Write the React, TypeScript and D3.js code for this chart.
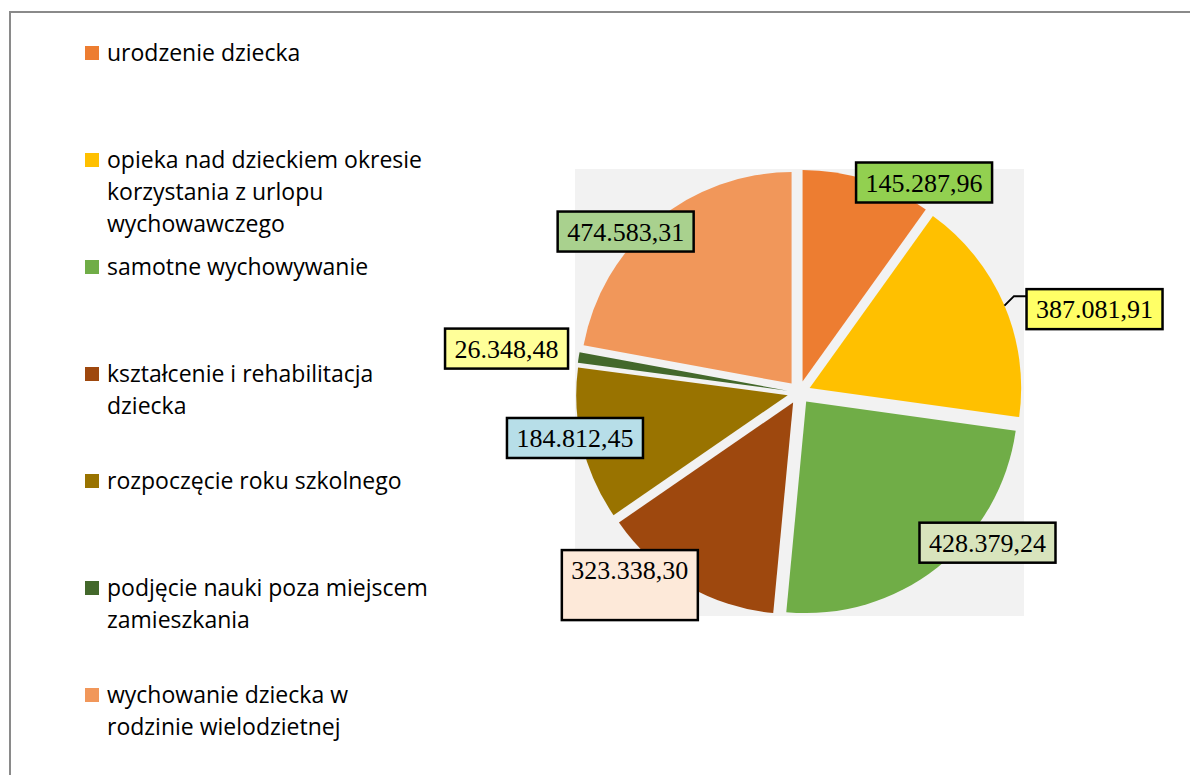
import React from "react";
import * as d3 from "d3";

const categories = [
  "urodzenie dziecka",
  "opieka nad dzieckiem okresie korzystania z urlopu wychowawczego",
  "samotne wychowywanie",
  "kształcenie i rehabilitacja dziecka",
  "rozpoczęcie roku szkolnego",
  "podjęcie nauki poza miejscem zamieszkania",
  "wychowanie dziecka w rodzinie wielodzietnej",
];
// slice shares (%) as drawn in the picture
const sliceShares = [9.9, 17.3, 24.3, 13.9, 11.7, 0.8, 22.1];
// data labels as printed on the chart
const valueLabels = ["145.287,96", "387.081,91", "428.379,24", "323.338,30", "184.812,45", "26.348,48", "474.583,31"];
const legendLines = [
  ["urodzenie dziecka"],
  ["opieka nad dzieckiem okresie", "korzystania z urlopu", "wychowawczego"],
  ["samotne wychowywanie"],
  ["kształcenie i rehabilitacja", "dziecka"],
  ["rozpoczęcie roku szkolnego"],
  ["podjęcie nauki poza miejscem", "zamieszkania"],
  ["wychowanie dziecka w", "rodzinie wielodzietnej"],
];
const sliceColors = ["#ED7D31", "#FFC000", "#70AD47", "#9E480E", "#997300", "#43682B", "#F1975A"];
const labelFills = ["#92D050", "#FFFF66", "#D8E4BC", "#FDE9D9", "#B7DEE8", "#FFFF99", "#A9D18E"];
// label centre offset from the outer edge of each slice (bisector)
const labelOffsets = [[56.8, 2.4], [90.5, 4.6], [50.1, -24.8], [-56.2, -14.8], [-7.1, -6.6], [-72.1, -9], [-30.6, 10.5]];
const labelExtra = [0, 0, 0, 30, 0, 0, 0];

const W = 1190;
const H = 775;
const cx = 799;
const cy = 392.5;
const radius = 211.5;
const explode = 11.6;

const textWidth = (s: string, size: number) =>
  s.split("").reduce((w, ch) => w + (ch === "." || ch === "," ? 0.25 : 0.5) * size, 0);

export default function App() {
  const pie = d3.pie<number>().sort(null).value((d) => d)(sliceShares);
  const arc = d3.arc<d3.PieArcDatum<number>>().innerRadius(0).outerRadius(radius);
  const polar = (a: number, r: number): [number, number] => [Math.sin(a) * r, -Math.cos(a) * r];

  const fontSize = 26;

  return (
    <svg width={W} height={H} style={{ position: "absolute", left: 0, top: 0 }}>
      <rect width={W} height={H} fill="#fff" />
      <rect x={10} y={12} width={W + 20} height={H + 20} fill="none" stroke="#8a8a8a" strokeWidth={2} />
      <rect x={575} y={169} width={449} height={447} fill="#F2F2F2" />

      <g transform={`translate(${cx},${cy})`}>
        {pie.map((d, i) => {
          const mid = (d.startAngle + d.endAngle) / 2;
          const [ox, oy] = polar(mid, explode);
          return <path key={i} d={arc(d) || ""} fill={sliceColors[i]} transform={`translate(${ox},${oy})`} />;
        })}
      </g>

      {pie.map((d, i) => {
        const mid = (d.startAngle + d.endAngle) / 2;
        const [ax, ay] = polar(mid, radius + explode);
        const lx = cx + ax + labelOffsets[i][0];
        const ly = cy + ay + labelOffsets[i][1];
        const txt = valueLabels[i];
        const bw = textWidth(txt, fontSize) + 19;
        const bh = 40 + labelExtra[i];
        const top = ly - 20;
        let leader = null;
        if (i === 1) {
          const [sx, sy] = polar(mid, explode);
          const [px, py] = polar((67.1 * Math.PI) / 180, radius);
          const x0 = cx + sx + px;
          const y0 = cy + sy + py;
          const yEnd = top + 7;
          leader = (
            <polyline
              points={`${x0},${y0} ${x0 + (y0 - yEnd)},${yEnd} ${lx - bw / 2},${yEnd}`}
              fill="none"
              stroke="#000"
              strokeWidth={2}
            />
          );
        }
        return (
          <g key={"l" + i}>
            {leader}
            <rect x={lx - bw / 2} y={top} width={bw} height={bh} fill={labelFills[i]} stroke="#000" strokeWidth={2.5} />
            <text x={lx} y={top + 29} textAnchor="middle" fontFamily="'Liberation Serif', 'Times New Roman', serif" fontSize={fontSize} fill="#000">
              {txt}
            </text>
          </g>
        );
      })}

      <g fontFamily="'Open Sans', 'Noto Sans', sans-serif" fontSize={23} fill="#000">
        {categories.map((c, i) => {
          const top = 46 + 107 * i;
          return (
            <g key={c}>
              <rect x={85} y={top} width={14} height={14} fill={sliceColors[i]} />
              <text x={107} y={top + 15}>
                {legendLines[i].map((ln, j) => (
                  <tspan key={j} x={107} dy={j === 0 ? 0 : 32}>
                    {ln}
                  </tspan>
                ))}
              </text>
            </g>
          );
        })}
      </g>
    </svg>
  );
}
